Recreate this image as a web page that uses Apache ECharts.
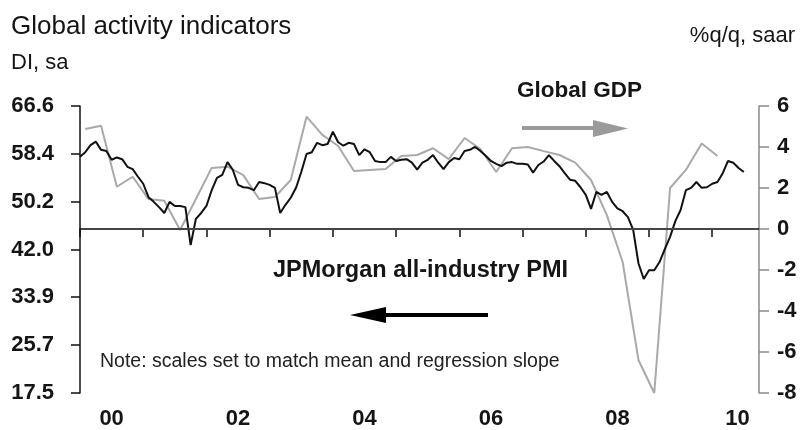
<!DOCTYPE html>
<html>
<head>
<meta charset="utf-8">
<script src="https://cdn.jsdelivr.net/npm/echarts@6/dist/echarts.min.js"></script>
<style>
html, body { margin: 0; padding: 0; background: #fff; }
#chart { width: 803px; height: 430px; }
</style>
</head>
<body>
<div id="chart"></div>
<script>
// JPMorgan all-industry PMI, monthly from Jan 2000 (left axis)
var pmiStart = 2000;
var pmiValues = [
    57.9, 58.7, 59.9, 60.5, 59.1, 58.9, 57.4, 57.8, 57.5, 56.2, 55.8, 54.5,
    53.3, 51.0, 50.2, 49.3, 48.3, 50.2, 49.5, 49.5, 49.3, 42.8, 47.3, 48.3,
    49.5, 52.2, 54.3, 54.8, 57.0, 55.7, 53.1, 52.7, 52.6, 52.2, 53.6, 53.4,
    53.1, 52.6, 48.3, 49.7, 50.9, 52.6, 55.3, 58.4, 58.7, 60.3, 59.9, 60.1,
    62.2, 60.4, 59.8, 60.3, 60.1, 58.2, 59.2, 58.7, 57.2, 57.0, 57.0, 57.9,
    57.2, 57.4, 57.5, 56.9, 55.7, 56.9, 57.4, 58.2, 56.9, 55.8, 57.0, 57.7,
    57.5, 58.9, 59.1, 59.6, 58.9, 58.1, 57.2, 56.7, 56.3, 56.9, 57.0, 56.7,
    56.7, 56.6, 55.2, 56.5, 57.1, 58.2, 57.2, 56.3, 55.1, 54.0, 53.8, 52.7,
    51.4, 49.0, 51.9, 51.4, 51.9, 50.2, 49.1, 48.6, 47.6, 45.4, 39.7, 37.0,
    38.5, 38.5, 39.9, 42.1, 44.2, 46.9, 48.8, 52.2, 52.6, 53.6, 52.6, 52.7,
    53.3, 53.6, 55.1, 57.2, 56.9, 56.0, 55.3
];

// Global GDP %q/q saar, quarterly from Q1 2000 (right axis)
var gdpStart = 2000;
var gdpValues = [
    4.88, 5.04, 2.06, 2.55,
    1.46, 1.38, -0.05, 1.46,
    2.98, 3.04, 2.63, 1.46,
    1.56, 2.39, 5.48, 4.59,
    4.05, 2.83, 2.88, 2.93,
    3.56, 3.61, 3.94, 3.41,
    4.44, 3.90, 2.78, 3.94,
    4.00, 3.80, 3.61, 3.24,
    2.39, 0.68, -1.61, -6.39,
    -8.0, 2.0, 2.88, 4.17,
    3.56
];

var pmiTicks = [17.5, 25.7, 33.9, 42.0, 50.2, 58.4, 66.6];
var yearTicks = [2000, 2001, 2002, 2003, 2004, 2005, 2006, 2007, 2008, 2009, 2010];
var yearLabelPos = [2000.5, 2002.5, 2004.5, 2006.5, 2008.5, 2010.4];
var yearLabels = ['00', '02', '04', '06', '08', '10'];

var sans = "'Liberation Sans', Arial, sans-serif";
var textColor = '#151515';

var pmiData = pmiValues.map(function (v, i) { return [pmiStart + i / 12, v]; });
var gdpData = gdpValues.map(function (v, i) { return [gdpStart + (3 * i + 1) / 12, v]; });

var myChart = echarts.init(document.getElementById('chart'));

var option = {
    animation: false,
    backgroundColor: '#fff',
    title: [{
        text: 'Global activity indicators',
        left: 11, top: 14, padding: 0,
        textStyle: { fontFamily: sans, fontSize: 26, fontWeight: 'normal', color: textColor }
    }, {
        text: 'DI, sa',
        left: 11, top: 52, padding: 0,
        textStyle: { fontFamily: sans, fontSize: 22, fontWeight: 'normal', color: textColor }
    }, {
        text: '%q/q, saar',
        right: 8, top: 25, padding: 0,
        textStyle: { fontFamily: sans, fontSize: 22, fontWeight: 'normal', color: textColor }
    }],
    grid: { left: 80, right: 44, top: 106, bottom: 37, outerBoundsMode: 'none' },
    xAxis: {
        type: 'value',
        min: 2000,
        max: 2010.74,
        splitLine: { show: false },
        axisLine: { lineStyle: { color: '#111', width: 1.5 } },
        axisTick: { customValues: yearTicks, length: 8, lineStyle: { color: '#111', width: 1.5 } },
        axisLabel: {
            customValues: yearLabelPos,
            margin: 15,
            fontFamily: sans, fontSize: 22, fontWeight: 'bold', color: textColor,
            formatter: function (v) {
                var i = yearLabelPos.indexOf(v);
                return i >= 0 ? yearLabels[i] : '';
            }
        }
    },
    yAxis: [{
        type: 'value',
        position: 'left',
        min: 17.5,
        max: 66.6,
        splitLine: { show: false },
        axisLine: { show: true, lineStyle: { color: '#111', width: 1.5 } },
        axisTick: { show: true, customValues: pmiTicks, length: 9, lineStyle: { color: '#111', width: 1.5 } },
        axisLabel: {
            customValues: pmiTicks,
            margin: 26,
            fontFamily: sans, fontSize: 22, fontWeight: 'bold', color: textColor,
            formatter: function (v) { return v.toFixed(1); }
        }
    }, {
        type: 'value',
        position: 'right',
        min: -8,
        max: 6,
        interval: 2,
        splitLine: { show: false },
        axisLine: { show: true, lineStyle: { color: '#8a8a8a', width: 1.5 } },
        axisTick: { show: true, length: 10, lineStyle: { color: '#8a8a8a', width: 1.5 } },
        axisLabel: {
            margin: 18,
            fontFamily: sans, fontSize: 22, fontWeight: 'bold', color: textColor
        }
    }],
    series: [{
        name: 'Global GDP',
        type: 'line',
        yAxisIndex: 1,
        data: gdpData,
        symbol: 'none',
        lineStyle: { color: '#a9a9a9', width: 2 },
        z: 2,
        markLine: {
            silent: true,
            symbol: 'none',
            label: { show: false },
            lineStyle: { color: '#444', width: 2, type: 'solid' },
            data: [[{ coord: [2000.05, 0] }, { coord: [2010.65, 0] }]]
        }
    }, {
        name: 'JPMorgan all-industry PMI',
        type: 'line',
        yAxisIndex: 0,
        data: pmiData,
        symbol: 'none',
        lineStyle: { color: '#111', width: 2 },
        z: 3
    }],
    graphic: [{
        type: 'text',
        x: 517, y: 91,
        style: { text: 'Global GDP', font: 'bold 22.5px ' + sans, fill: textColor, verticalAlign: 'middle' }
    }, {
        type: 'line',
        shape: { x1: 522, y1: 128, x2: 596, y2: 128 },
        style: { stroke: '#9a9a9a', lineWidth: 4 }
    }, {
        type: 'polygon',
        shape: { points: [[593, 120], [628, 128.5], [593, 137]] },
        style: { fill: '#9a9a9a' }
    }, {
        type: 'text',
        x: 273, y: 271,
        style: { text: 'JPMorgan all-industry PMI', font: 'bold 23.5px ' + sans, fill: textColor, verticalAlign: 'middle' }
    }, {
        type: 'line',
        shape: { x1: 383, y1: 315, x2: 488, y2: 315 },
        style: { stroke: '#000', lineWidth: 4 }
    }, {
        type: 'polygon',
        shape: { points: [[386, 307], [350, 315], [386, 323]] },
        style: { fill: '#000' }
    }, {
        type: 'text',
        x: 100, y: 362,
        style: { text: 'Note: scales set to match mean and regression slope', font: '19.5px ' + sans, fill: '#222', verticalAlign: 'middle' }
    }]
};

myChart.setOption(option, true);
</script>
</body>
</html>
